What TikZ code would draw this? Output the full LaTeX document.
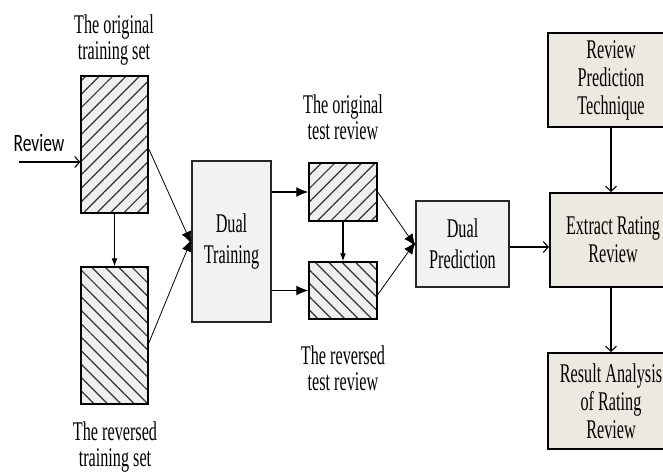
\documentclass[tikz,border=0pt]{standalone}
\usepackage{fontspec}
\setmainfont[FakeStretch=0.6]{Liberation Serif}
\newfontfamily\revfont[FakeStretch=0.7]{Carlito}
\usepackage{tikz}
\usetikzlibrary{arrows.meta,patterns.meta,positioning}
\definecolor{boxgray}{HTML}{F2F2F2}
\definecolor{boxtan}{HTML}{ECEAE0}
\definecolor{hatchbg}{HTML}{EFEFEF}

\begin{document}
\begin{tikzpicture}[x=1pt, y=-1pt, line width=1.1pt,
  hatch box/.style={draw, line width=1.5pt, minimum width=67pt, inner sep=0pt, preaction={fill=hatchbg}},
  ne hatch/.style={hatch box, pattern={Lines[angle=45,distance=9.5pt,line width=1.2pt]}, pattern color=black!80},
  nw hatch/.style={hatch box, pattern={Lines[angle=-45,distance=9.5pt,line width=1.2pt]}, pattern color=black!80},
  gray box/.style={draw=black!85, line width=1.3pt, fill=boxgray, align=center, font=\fontsize{27}{31}\selectfont},
  tan box/.style={draw, line width=2pt, fill=boxtan, align=center, minimum width=126pt, font=\fontsize{27}{28}\selectfont},
  caption/.style={align=center, font=\fontsize{27}{26}\selectfont},
  big/.style={-{Latex[length=12pt,width=10pt]}},
  small/.style={-{Latex[length=8pt,width=6pt]}},
  open/.style={-{Straight Barb[length=5pt,width=11pt]}}]
\useasboundingbox (0,0) rectangle (663,471);
\clip (0,0) rectangle (663,471);

% training sets
\node[ne hatch, minimum height=137pt] (otrain) at (114.5,144.5) {};
\node[nw hatch, minimum height=137pt] (rtrain) at (114.5,335.5) {};
\node[caption] (otraintxt) at (114,40) {The original\\training set};
\node[caption] (rtraintxt) at (115,447) {The reversed\\training set};
\node[font=\revfont\fontsize{25}{26}\selectfont] (rev) at (39,143) {Review};
\coordinate (revin) at (19,162);

% dual training and the test reviews
\node[gray box, minimum width=79pt, minimum height=161pt] (dtrain) at (231.5,241.5) {Dual\\Training};
\node[ne hatch, minimum width=68pt, minimum height=58pt] (otest) at (343,192) {};
\node[nw hatch, minimum width=68pt, minimum height=57pt] (rtest) at (343,290.5) {};
\node[caption] (otesttxt) at (343,117) {The original\\test review};
\node[caption] (rtesttxt) at (343,368) {The reversed\\test review};
\node[gray box, minimum width=93pt, minimum height=86pt] (dpred) at (462.5,244) {Dual\\Prediction};

% right column
\node[tan box, minimum height=94pt] (rpt) at (611,80) {Review\\Prediction\\Technique};
\node[tan box, minimum height=94pt] (extract) at (613,240) {Extract Rating\\Review};
\node[tan box, minimum height=96pt] (result) at (611,401) {Result Analysis\\of Rating\\Review};

\draw[open] (revin) -- (revin -| otrain.west);
\draw[small] (otrain.south) -- (rtrain.north);
\draw[big, line width=0.8pt] ([yshift=-4pt]otrain.east) -- ([yshift=-2pt]dtrain.west);
\draw[big, line width=0.8pt] ([yshift=-8pt]rtrain.east) -- ([yshift=2pt]dtrain.west);
\draw[big] (dtrain.east |- otest.west) -- (otest.west);
\draw[big] (dtrain.east |- rtest.west) -- (rtest.west);
\draw[small] (otest.south) -- (rtest.north);
\draw[big, line width=0.8pt] (otest.east) -- ([yshift=-2pt]dpred.west);
\draw[big, line width=0.8pt] ([yshift=-4pt]rtest.east) -- ([yshift=2pt]dpred.west);
\draw[open] ([yshift=-3pt]dpred.east) -- ([yshift=-3pt]dpred.east -| extract.west);
\draw[open] (rpt.south) -- (rpt.south |- extract.north);
\draw[open] (rpt.south |- extract.south) -- (rpt.south |- result.north);
\end{tikzpicture}
\end{document}
